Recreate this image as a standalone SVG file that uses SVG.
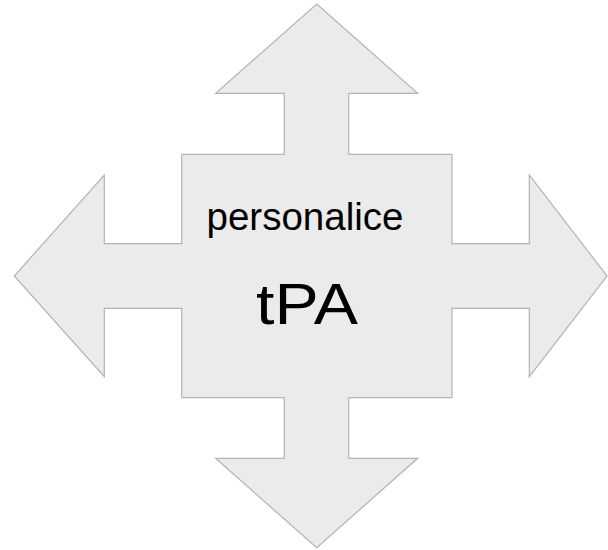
<svg xmlns="http://www.w3.org/2000/svg" width="608" height="550" viewBox="0 0 608 550">
<style>
.shape{fill:#ebebeb;stroke:#b3b3b3;stroke-width:1.2;stroke-linejoin:miter}
.lbl{font-family:"Liberation Sans",Arial,sans-serif;fill:#000}
</style>
<rect width="608" height="550" fill="#ffffff"/>
<g id="quad-arrow">
<path class="shape" d="M316.7,4 L417.7,93.3 L348.7,93.3 L348.7,154.3 L452,154.3 L452,243.7 L529.3,243.7 L529.3,175 L607,276 L529.3,376.7 L529.3,308.3 L452,308.3 L452,397.7 L348.7,397.7 L348.7,458.3 L417.7,458.3 L316.7,547.7 L215.7,458.3 L284.3,458.3 L284.3,397.7 L181.7,397.7 L181.7,308.3 L104.3,308.3 L104.3,376.7 L14.3,276 L104.3,175 L104.3,243.7 L181.7,243.7 L181.7,154.3 L284.3,154.3 L284.3,93.3 L215.7,93.3 Z"/>
<text class="lbl" x="206.5" y="230" font-size="38" textLength="197" lengthAdjust="spacingAndGlyphs">personalice</text>
<text class="lbl" x="256" y="324.3" font-size="58" textLength="102" lengthAdjust="spacingAndGlyphs">tPA</text>
</g>
<g id="connectors"></g>
</svg>
